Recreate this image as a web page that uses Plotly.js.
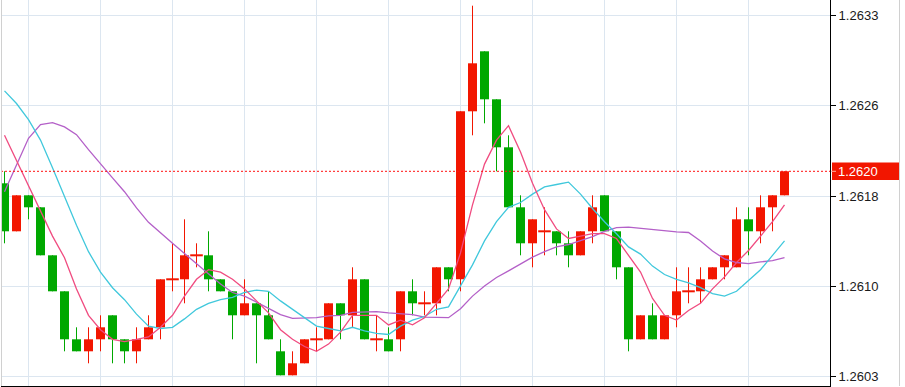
<!DOCTYPE html>
<html>
<head>
<meta charset="utf-8">
<script src="https://cdn.plot.ly/plotly-3.0.1.min.js"></script>
<style>
html,body{margin:0;padding:0;background:#ffffff;}
#chart{width:905px;height:387px;}
</style>
</head>
<body>
<div id="chart"></div>
<script>
// ---- data ----
const openP = [1.2619,1.2615,1.2618,1.2617,1.2613,1.2610,1.2606,1.2605,1.2606,1.2608,
  1.2606,1.2605,1.2606,1.2607,1.2611,1.2611,1.2613,1.2613,1.2611,1.2610,
  1.2608,1.2609,1.2608,1.2605,1.2603,1.2604,1.2606,1.2606,1.2609,1.2608,
  1.2611,1.2606,1.2606,1.2606,1.2610,1.2609,1.2609,1.2612,1.2611,1.2625,
  1.2630,1.2626,1.2622,1.2617,1.2614,1.2615,1.2615,1.2614,1.2613,1.2615,
  1.2618,1.2615,1.2612,1.2606,1.2608,1.2606,1.2608,1.2610,1.2610,1.2611,
  1.2612,1.2612,1.2616,1.2615,1.2617,1.2618];
const highP = [1.2620,1.2618,1.2618,1.2617,1.2613,1.2610,1.2607,1.2607,1.2608,1.2608,
  1.2606,1.2607,1.2608,1.2611,1.2614,1.2616,1.2614,1.2615,1.2611,1.2610,
  1.2611,1.2609,1.2610,1.2606,1.2605,1.2606,1.2607,1.2609,1.2609,1.2612,
  1.2611,1.2608,1.2607,1.2610,1.2611,1.2610,1.2612,1.2612,1.2625,1.26338,
  1.2630,1.2626,1.2623,1.2618,1.2616,1.2617,1.2615,1.2615,1.2615,1.2618,
  1.2618,1.2615,1.2612,1.2608,1.2609,1.2608,1.2612,1.2612,1.2612,1.2612,
  1.2613,1.2617,1.2617,1.2618,1.2618,1.2620];
const lowP = [1.2614,1.2615,1.2616,1.2613,1.2610,1.2605,1.2605,1.2604,1.2605,1.2604,
  1.2604,1.2604,1.2606,1.2606,1.2610,1.2609,1.2612,1.2610,1.2610,1.2606,
  1.2608,1.2604,1.2606,1.2603,1.2603,1.2604,1.2605,1.2606,1.2606,1.2607,
  1.2606,1.2605,1.2605,1.2605,1.2608,1.2608,1.2608,1.2610,1.2610,1.2623,
  1.2624,1.2620,1.2617,1.2613,1.2612,1.2613,1.2613,1.2612,1.2613,1.2614,
  1.2615,1.2611,1.2605,1.2606,1.2606,1.2606,1.2607,1.2609,1.2609,1.2611,
  1.2611,1.2612,1.2613,1.2614,1.2615,1.2618];
const closeP = [1.2615,1.2618,1.2617,1.2613,1.2610,1.2606,1.2605,1.2606,1.2607,1.2606,
  1.2605,1.2606,1.2607,1.2611,1.2611,1.2613,1.2613,1.2611,1.2610,1.2608,
  1.2609,1.2608,1.2606,1.2603,1.2604,1.2606,1.2606,1.2609,1.2608,1.2611,
  1.2606,1.2606,1.2605,1.2610,1.2609,1.2609,1.2612,1.2611,1.2625,1.2629,
  1.2626,1.2622,1.2617,1.2614,1.2616,1.2615,1.2614,1.2613,1.2615,1.2617,
  1.2615,1.2612,1.2606,1.2608,1.2606,1.2608,1.2610,1.2610,1.2611,1.2612,
  1.2613,1.2616,1.2615,1.2617,1.2618,1.2620];

// moving averages (pink = fast, cyan = medium, purple = slow)
const maFast = [1.26230,1.26209,1.26188,1.26168,1.26146,1.26128,1.26102,1.26080,1.26068,1.26060,
  1.26058,1.26060,1.26062,1.26070,1.26080,1.26096,1.26110,1.26118,1.26116,1.26110,
  1.26102,1.26092,1.26082,1.26068,1.26060,1.26054,1.26050,1.26056,1.26066,1.26080,
  1.26080,1.26080,1.26072,1.26076,1.26072,1.26078,1.26090,1.26102,1.26132,1.26172,
  1.26206,1.26226,1.26238,1.26216,1.26190,1.26168,1.26152,1.26144,1.26146,1.26148,
  1.26148,1.26144,1.26130,1.26116,1.26094,1.26080,1.26076,1.26084,1.26090,1.26102,
  1.26112,1.26124,1.26134,1.26146,1.26158,1.26172];
const maMid = [1.26267,1.262565,1.26243,1.26226,1.26203,1.26179,1.26155,1.26133,1.26116,1.26103,
  1.26093,1.26081,1.26071,1.26069,1.26070,1.26077,1.26085,1.26090,1.26093,1.26095,
  1.26099,1.26101,1.26100,1.26092,1.26085,1.26078,1.26071,1.26069,1.26067,1.26070,
  1.26067,1.26065,1.26064,1.26071,1.26076,1.26079,1.26085,1.26087,1.26104,1.26122,
  1.26142,1.26158,1.26170,1.26174,1.26181,1.26187,1.26189,1.26191,1.26181,1.26169,
  1.26158,1.26148,1.26137,1.26131,1.26121,1.26114,1.26110,1.26107,1.26103,1.26098,
  1.26096,1.26100,1.26109,1.26118,1.26130,1.26142];
const maSlow = [1.26183,1.26205,1.262275,1.26239,1.262405,1.26237,1.262305,1.26218,1.26206,1.261945,
  1.26183,1.261695,1.261575,1.261485,1.26140,1.261315,1.26123,1.261145,1.26106,1.26099,
  1.26096,1.26091,1.260855,1.260805,1.260775,1.260775,1.26078,1.260795,1.26080,1.260825,
  1.26083,1.26083,1.26082,1.260815,1.260805,1.260785,1.26078,1.26078,1.260855,1.26096,
  1.261045,1.261115,1.26117,1.261225,1.261285,1.26133,1.26137,1.26139,1.261425,1.261455,
  1.26150,1.26153,1.261535,1.261525,1.26151,1.261505,1.261495,1.26149,1.26142,1.261335,
  1.26127,1.26124,1.26123,1.261245,1.261255,1.26128];

const tickVals = [1.260289,1.261041,1.261793,1.262545,1.263297];
const tickText = ["1.2603","1.2610","1.2618","1.2626","1.2633"];
const lastPrice = 1.2620;
const lastLabel = "1.2620";
const gridIdx = [2,8,14,20,26,32,38,44,50,56,62];

// ---- build traces ----
const UP = '#F21600', DOWN = '#00A800';
const idx = openP.map((_, i) => i);
const bodyX = [], bodyBase = [], bodyH = [], bodyCol = [];
const dojiX = [], dojiY = [];
const wUpX = [], wUpY = [], wDnX = [], wDnY = [];
idx.forEach(i => {
  const o = openP[i], c = closeP[i];
  const up = c >= o;
  if (Math.abs(c - o) < 1e-9) { dojiX.push(i); dojiY.push(c); }
  else { bodyX.push(i); bodyBase.push(Math.min(o, c)); bodyH.push(Math.abs(c - o)); bodyCol.push(c > o ? UP : DOWN); }
  const wx = up ? wUpX : wDnX, wy = up ? wUpY : wDnY;
  wx.push(i, i, null); wy.push(lowP[i], highP[i], null);
});

const traces = [
  {type:'scatter', mode:'lines', x:wUpX, y:wUpY, line:{color:UP, width:1}, hoverinfo:'skip', showlegend:false},
  {type:'scatter', mode:'lines', x:wDnX, y:wDnY, line:{color:DOWN, width:1}, hoverinfo:'skip', showlegend:false},
  {type:'bar', x:bodyX, base:bodyBase, y:bodyH, width:0.75, marker:{color:bodyCol, line:{width:0}}, hoverinfo:'skip', showlegend:false},
  {type:'scatter', mode:'markers', x:dojiX, y:dojiY, marker:{symbol:'line-ew', size:9, color:UP, line:{color:UP, width:2}}, hoverinfo:'skip', showlegend:false},
  {type:'scatter', mode:'lines', x:idx, y:maSlow, line:{color:'#B460C8', width:1.3}, hoverinfo:'skip', showlegend:false},
  {type:'scatter', mode:'lines', x:idx, y:maMid, line:{color:'#40C8DC', width:1.3}, hoverinfo:'skip', showlegend:false},
  {type:'scatter', mode:'lines', x:idx, y:maFast, line:{color:'#F04C80', width:1.3}, hoverinfo:'skip', showlegend:false}
];

const W = 829; // plot width in px
const px = p => (p - 1) / W; // page px -> paper x
const grid = '#DCE6F0';
const layout = {
  width: 905, height: 387,
  margin: {l:1, r:75, t:0, b:1, pad:0},
  paper_bgcolor:'#ffffff', plot_bgcolor:'#ffffff',
  showlegend:false,
  xaxis: {range:[-0.2917, 68.79], tickmode:'array', tickvals:gridIdx, showticklabels:false, ticks:'',
          showgrid:true, gridcolor:grid, gridwidth:1, zeroline:false,
          showline:true, linecolor:'#000000', linewidth:1, fixedrange:true},
  yaxis: {side:'right', range:[1.2602108, 1.2634275], tickmode:'array', tickvals:tickVals, ticktext:tickText,
          ticks:'outside', ticklen:5, tickwidth:1, tickcolor:'#000000',
          showgrid:true, gridcolor:grid, gridwidth:1, zeroline:false,
          showline:true, linecolor:'#000000', linewidth:1,
          tickfont:{family:'Liberation Sans, Arial, sans-serif', size:13, color:'#1a1a1a'}, fixedrange:true},
  shapes: [
    {type:'line', xref:'paper', yref:'y', x0:0, x1:1, y0:lastPrice, y1:lastPrice, line:{color:'#FF1010', width:1, dash:'2px,2px'}, layer:'above'},
    {type:'rect', xref:'paper', yref:'y', x0:px(832), x1:px(899), y0:lastPrice-0.000073, y1:lastPrice+0.000073, fillcolor:UP, line:{width:0}, layer:'above'},
    {type:'line', xref:'paper', yref:'y', x0:px(831), x1:px(836), y0:lastPrice, y1:lastPrice, line:{color:'#FFB0A0', width:1}, layer:'above'},
    {type:'line', xref:'paper', yref:'paper', x0:px(1.5), x1:px(1.5), y0:0, y1:1, line:{color:'#D0D0D0', width:1}},
    {type:'line', xref:'paper', yref:'paper', x0:px(899.5), x1:px(899.5), y0:0, y1:1, line:{color:'#D0D0D0', width:1}}
  ],
  annotations: [
    {xref:'paper', yref:'y', x:px(836), y:lastPrice, xanchor:'left', yanchor:'middle', showarrow:false,
     text:lastLabel, font:{family:'Liberation Sans, Arial, sans-serif', size:13, color:'#ffffff'}}
  ]
};

Plotly.newPlot('chart', traces, layout, {staticPlot:true, displayModeBar:false});
</script>
</body>
</html>
